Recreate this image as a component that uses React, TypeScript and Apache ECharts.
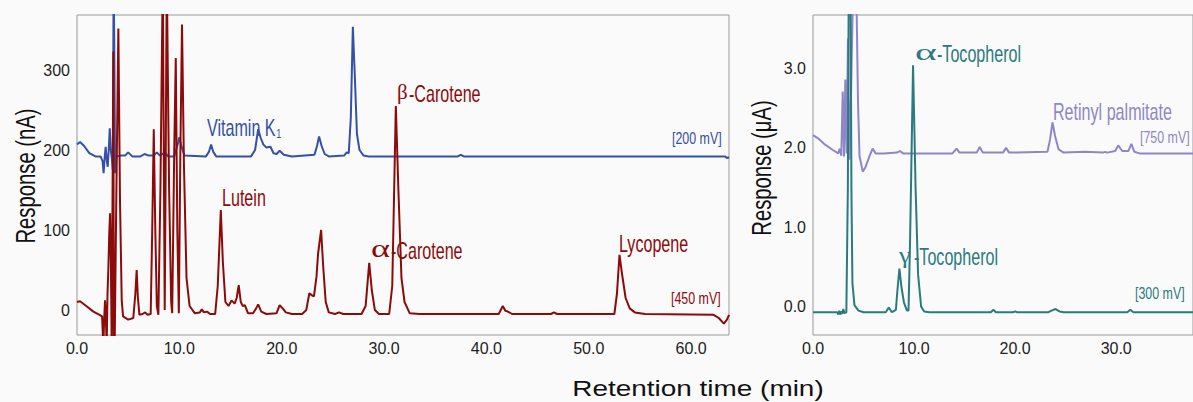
import React, { useEffect, useRef } from "react";
import * as echarts from "echarts";

// ---- tick values ----
const leftTicksX = [0, 10, 20, 30, 40, 50, 60];
const leftTicksY = [0, 100, 200, 300];
const rightTicksX = [0, 10, 20, 30];
const rightTicksY = [0, 1, 2, 3];

// ---- left panel: Vitamin K1 channel [200 mV] (nA) ----
const vitaminK: [number, number][] = [
  [0, 207], [0.3, 210], [0.7, 205], [1.2, 196], [1.8, 192], [2.3, 192], [2.5, 186], [2.6, 171],
  [2.7, 190], [2.8, 204], [2.9, 188], [3.0, 179], [3.1, 200], [3.2, 227], [3.3, 200], [3.4, 190],
  [3.5, 175], [3.58, 420], [3.66, 300], [3.72, 171], [3.85, 192], [4.3, 193], [4.7, 193], [5.0, 197],
  [5.4, 192], [6.2, 192], [6.6, 195], [7.0, 193], [7.5, 193], [7.8, 197], [8.1, 193], [8.6, 197],
  [8.9, 192], [9.5, 192], [9.8, 205], [10.0, 216], [10.2, 205], [10.5, 193], [12.6, 192], [12.9, 198],
  [13.1, 207], [13.3, 198], [13.6, 192], [17.0, 192], [17.4, 200], [17.7, 226], [17.95, 215],
  [18.2, 207], [18.5, 203], [18.9, 204], [19.2, 196], [19.5, 195], [19.8, 199], [20.2, 194],
  [21.0, 192], [23.2, 194], [23.45, 205], [23.65, 217], [23.9, 205], [24.2, 195], [24.6, 192],
  [26.1, 193], [26.35, 197], [26.55, 196], [26.75, 240], [26.95, 354], [27.15, 290], [27.35, 220],
  [27.6, 200], [28.0, 193], [28.5, 192], [37.2, 192], [37.5, 194], [37.8, 192], [63.3, 192],
  [63.5, 190], [63.7, 191],
];

// ---- left panel: carotenoid channel [450 mV] (nA) ----
const carotenoids: [number, number][] = [
  [0, 10], [0.3, 11], [1.0, 4], [1.6, -2], [2.2, -6], [2.45, -8], [2.57, -45], [2.66, -10],
  [2.74, 12], [2.82, -10], [2.9, -45], [2.98, 20], [3.06, 50], [3.15, 95], [3.23, 121], [3.31, 60],
  [3.39, -45], [3.45, -45], [3.55, 323], [3.6, -45], [3.68, -45], [3.85, 150], [4.04, 352],
  [4.2, 137], [4.37, 12], [4.5, -8], [5.0, -12], [5.5, -10], [5.7, 20], [5.83, 50], [5.95, 15],
  [6.1, -6], [6.4, -5], [6.65, -3], [6.9, -6], [7.2, -5], [7.35, 100], [7.5, 226], [7.65, 100],
  [7.8, 5], [7.95, -6], [8.15, 150], [8.38, 420], [8.5, 150], [8.57, 0], [8.65, 150], [8.77, 420],
  [9.0, 150], [9.2, 10], [9.3, -4], [9.5, 200], [9.65, 315], [9.8, 100], [9.95, -4], [10.1, 200],
  [10.26, 357], [10.45, 180], [10.7, 40], [11.0, 5], [11.5, -4], [12.0, -3], [12.2, 1], [12.4, -3],
  [12.7, -2], [13.0, -5], [13.5, -5], [13.75, 30], [14.05, 125], [14.25, 60], [14.5, 10], [14.8, 5],
  [15.1, 12], [15.4, 8], [15.6, 15], [15.8, 31], [16.0, 10], [16.2, 5], [16.4, 6], [16.7, -4],
  [17.2, -4], [17.5, 2], [17.7, 7], [18.0, -2], [18.5, -5], [19.5, -4], [19.8, 6], [20.1, 2],
  [20.4, -3], [21.0, -5], [22.0, -5], [22.4, 0], [22.7, 21], [23.0, 18], [23.15, 17], [23.4, 42],
  [23.55, 70], [23.85, 100], [24.05, 55], [24.3, 10], [24.6, -3], [25.2, -5], [25.6, -3], [26.0, -5],
  [27.8, -5], [28.2, 5], [28.55, 59], [28.8, 25], [29.1, 0], [29.5, -5], [30.5, -5], [30.8, 30],
  [31.15, 255], [31.4, 150], [31.7, 40], [32.0, 10], [32.5, -4], [33.5, -5], [41.2, -5], [41.4, 0],
  [41.6, 5], [41.85, -1], [42.1, -2], [42.5, -5], [46.3, -5], [46.6, -3], [46.9, -5], [52.5, -5],
  [52.75, 20], [53.0, 69], [53.25, 45], [53.6, 15], [54.0, 2], [54.5, -3], [55.5, -5], [62.2, -6],
  [62.7, -10], [63.2, -17], [63.5, -12], [63.7, -6],
];

// ---- right panel: Retinyl channel [750 mV] (µA) ----
const retinyl: [number, number][] = [
  [0, 2.16], [0.5, 2.12], [1.2, 2.04], [2.0, 1.97], [2.5, 1.93], [2.65, 1.99], [2.8, 1.9],
  [2.94, 2.71], [3.07, 1.89], [3.2, 2.86], [3.33, 1.93], [3.46, 3.38], [3.6, 1.85], [3.75, 2.6],
  [3.95, 3.9], [4.15, 4.5], [4.3, 3.9], [4.45, 2.6], [4.6, 1.9], [4.92, 1.7], [5.2, 1.76],
  [5.6, 1.9], [5.9, 1.99], [6.2, 1.93], [7.0, 1.93], [8.3, 1.94], [8.6, 1.96], [8.9, 1.93],
  [13.8, 1.93], [14.2, 1.99], [14.5, 1.94], [16.2, 1.94], [16.5, 2.01], [16.8, 1.94], [18.8, 1.94],
  [19.1, 2.0], [19.4, 1.94], [23.2, 1.95], [23.45, 2.1], [23.7, 2.32], [23.95, 2.15], [24.3, 1.98],
  [24.8, 1.94], [26.9, 1.95], [28.7, 1.94], [28.9, 1.95], [29.1, 1.94], [29.9, 1.96], [30.2, 2.03],
  [30.6, 1.96], [31.2, 1.96], [31.5, 2.05], [31.8, 1.95], [32.3, 1.93], [37.6, 1.93],
];

// ---- right panel: Tocopherol channel [300 mV] (µA) ----
const tocopherol: [number, number][] = [
  [0, -0.07], [2.4, -0.07], [2.5, -0.1], [2.6, -0.05], [2.7, -0.1], [2.8, -0.06], [2.9, -0.09],
  [3.0, -0.03], [3.1, -0.08], [3.3, -0.07], [3.45, 1.5], [3.55, 4.5], [3.7, 4.5], [3.8, 1.5],
  [3.9, 0.3], [4.1, 0.02], [4.5, -0.05], [5.0, -0.07], [7.2, -0.07], [7.5, -0.01], [7.8, -0.07],
  [8.2, -0.04], [8.35, 0.2], [8.55, 0.48], [8.75, 0.25], [9.0, 0.05], [9.3, -0.05], [9.45, -0.05],
  [9.6, 0.8], [9.9, 3.04], [10.15, 1.5], [10.4, 0.4], [10.7, 0.0], [11.0, -0.06], [11.5, -0.07],
  [17.6, -0.07], [17.85, -0.04], [18.1, -0.07], [19.8, -0.07], [20.0, -0.06], [20.2, -0.07],
  [23.3, -0.07], [23.6, -0.05], [24.0, -0.03], [24.4, -0.06], [24.8, -0.07], [31.1, -0.07],
  [31.4, -0.04], [31.7, -0.07], [37.6, -0.07],
];

const BLUE = "#3451a6";
const RED = "#8b0b0b";
const PURPLE = "#8f86c8";
const TEAL = "#2b7b7e";
const SANS = "'Liberation Sans', Arial, sans-serif";
const SERIF = "'Liberation Serif', 'Times New Roman', serif";

function label(text: string, x: number, y: number, color: string, size: number, sx: number, rich?: any, family = SANS) {
  return {
    type: "text",
    x,
    y,
    scaleX: sx,
    silent: true,
    z: 10,
    style: {
      text,
      fill: color,
      fontSize: size,
      fontFamily: family,
      textAlign: "left",
      textVerticalAlign: "middle",
      align: "left",
      verticalAlign: "middle",
      rich,
    },
  };
}

function title(text: string, x: number, y: number, size: number, sx: number, rotation = 0) {
  return {
    type: "text",
    x,
    y,
    rotation,
    scaleX: sx,
    silent: true,
    style: {
      text,
      fill: "#111",
      fontSize: size,
      fontFamily: SANS,
      textAlign: "center",
      textVerticalAlign: "middle",
      align: "center",
      verticalAlign: "middle",
    },
  };
}

export default function App() {
  const ref = useRef<HTMLDivElement>(null);
  useEffect(() => {
    const chart = echarts.init(ref.current!, null, { renderer: "svg" });
    const axisLabel = (vals: number[], fmt: (v: number) => string, margin: number) => ({
      customValues: vals,
      formatter: fmt,
      fontFamily: SANS,
      fontSize: 16,
      color: "#222",
      margin,
    });
    const xa = (grid: number, max: number, ticks: number[]) => ({
      type: "value",
      gridIndex: grid,
      min: 0,
      max,
      axisLine: { show: false },
      axisTick: { show: false },
      splitLine: { show: false },
      axisLabel: axisLabel(ticks, (v: number) => v.toFixed(1), 5),
    });
    const ya = (grid: number, min: number, max: number, ticks: number[], fmt: (v: number) => string) => ({
      type: "value",
      gridIndex: grid,
      min,
      max,
      axisLine: { show: false },
      axisTick: { show: false },
      splitLine: { show: false },
      axisLabel: axisLabel(ticks, fmt, 7),
    });
    const line = (name: string, data: [number, number][], color: string, idx: number) => ({
      name,
      type: "line",
      xAxisIndex: idx,
      yAxisIndex: idx,
      data,
      showSymbol: false,
      symbol: "none",
      clip: true,
      lineStyle: { color, width: 2 },
      itemStyle: { color },
    });
    const S = 0.7;
    chart.setOption({
      animation: false,
      backgroundColor: "#fafafa",
      grid: [
        { left: 77, top: 15, width: 652, height: 320, show: true, borderColor: "#9a9a9a", borderWidth: 1, backgroundColor: "transparent" },
        { left: 813, top: 15, width: 381, height: 320, show: true, borderColor: "#9a9a9a", borderWidth: 1, backgroundColor: "transparent" },
      ],
      xAxis: [xa(0, 63.7, leftTicksX), xa(1, 37.6, rightTicksX)],
      yAxis: [
        ya(0, -31.25, 368.75, leftTicksY, (v: number) => String(v)),
        ya(1, -0.357, 3.673, rightTicksY, (v: number) => v.toFixed(1)),
      ],
      series: [
        line("Vitamin K1 [200 mV]", vitaminK, BLUE, 0),
        line("Carotenoids [450 mV]", carotenoids, RED, 0),
        line("Retinyl [750 mV]", retinyl, PURPLE, 1),
        line("Tocopherols [300 mV]", tocopherol, TEAL, 1),
      ],
      graphic: [
        title("Response (nA)", 25, 176, 27, 0.75, Math.PI / 2),
        title("Response (μA)", 761, 168, 27, 0.75, Math.PI / 2),
        title("Retention time (min)", 698, 388, 22, 1.27),
        label("{t|Vitamin K}{s|1}", 207, 128, BLUE, 23, S, {
          t: { fontFamily: SANS, fontSize: 23, fill: BLUE, color: BLUE },
          s: { fontFamily: SANS, fontSize: 13, fill: BLUE, color: BLUE, verticalAlign: "bottom", padding: [9, 0, 0, 1] },
        }),
        label("Lutein", 222, 198, RED, 23, S),
        label("β", 397, 92, RED, 21, 1.0, undefined, SERIF),
        label("-Carotene", 409, 94, RED, 23, S),
        label("α", 371, 249, RED, 25, 1.45, undefined, SERIF),
        label("-Carotene", 391, 251, RED, 23, S),
        label("Lycopene", 619, 244, RED, 23, S),
        label("[200 mV]", 672, 138, BLUE, 17, 0.73),
        label("[450 mV]", 671, 298, RED, 17, 0.73),
        label("α", 915, 52, TEAL, 23, 1.8, undefined, SERIF),
        label("-Tocopherol", 937, 54, TEAL, 23, S),
        label("γ", 899, 255, TEAL, 24, 1.1, undefined, SERIF),
        label("-Tocopherol", 914, 257, TEAL, 23, S),
        label("Retinyl palmitate", 1053, 112, PURPLE, 23, S),
        label("[750 mV]", 1140, 137, PURPLE, 17, 0.73),
        label("[300 mV]", 1135, 293, TEAL, 17, 0.73),
      ],
    });
    return () => chart.dispose();
  }, []);
  return (
    <div
      ref={ref}
      style={{ position: "fixed", left: 0, top: 0, width: 1193, height: 402 }}
    />
  );
}
